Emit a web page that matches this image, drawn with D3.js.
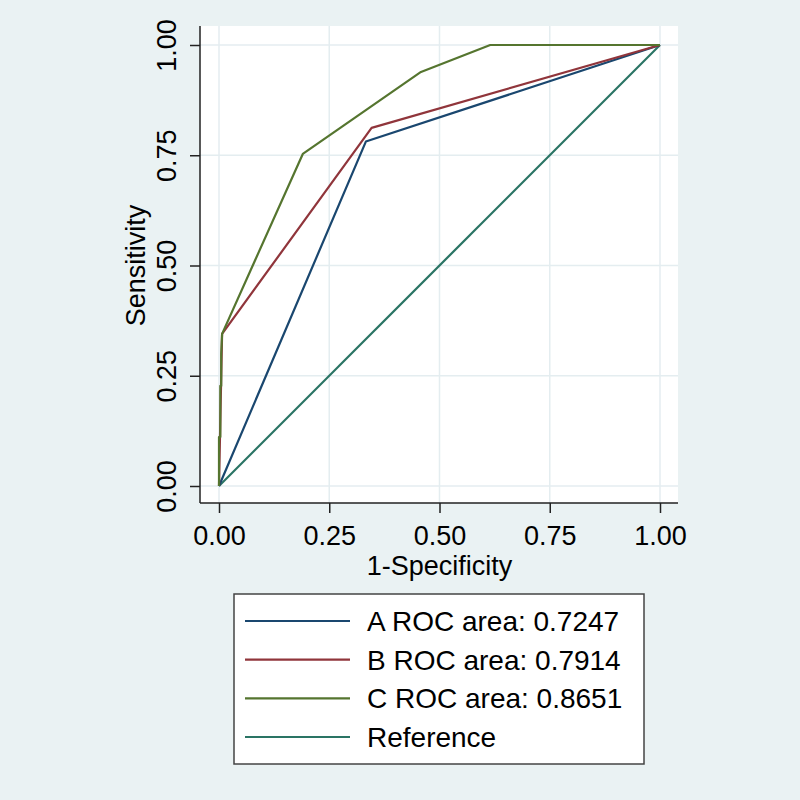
<!DOCTYPE html>
<html>
<head>
<meta charset="utf-8">
<script src="https://cdn.jsdelivr.net/npm/d3@7/dist/d3.min.js"></script>
<style>
  html, body { margin: 0; padding: 0; background: #EAF2F3; }
  svg { display: block; }
  text { font-family: Arial, "Liberation Sans", sans-serif; fill: #000; }
</style>
</head>
<body>
<svg id="chart" width="800" height="800"></svg>
<script>
// ---- Data ----
const seriesNames = ["A ROC area: 0.7247", "B ROC area: 0.7914", "C ROC area: 0.8651", "Reference"];
const seriesColors = ["#1a476f", "#90353b", "#55752f", "#2a7464"];
const aFpr = [0, 0.333, 1];
const aTpr = [0, 0.781, 1];
const bFpr = [0, 0.007, 0.346, 1];
const bTpr = [0, 0.345, 0.812, 1];
const cFpr = [0, 0, 0.003, 0.003, 0.005, 0.005, 0.007, 0.19, 0.458, 0.615, 1];
const cTpr = [0, 0.111, 0.111, 0.227, 0.227, 0.3, 0.345, 0.753, 0.939, 1, 1];
const refFpr = [0, 1];
const refTpr = [0, 1];
const tickValues = [0, 0.25, 0.5, 0.75, 1];
const tickLabels = ["0.00", "0.25", "0.50", "0.75", "1.00"];
const xTitle = "1-Specificity";
const yTitle = "Sensitivity";

const series = [
  {fpr: aFpr, tpr: aTpr},
  {fpr: bFpr, tpr: bTpr},
  {fpr: cFpr, tpr: cTpr},
  {fpr: refFpr, tpr: refTpr}
];

// ---- Layout ----
const svg = d3.select("#chart");
const W = 800, H = 800;
svg.append("rect").attr("width", W).attr("height", H).attr("fill", "#EAF2F3");

const region = {left: 200, right: 678, top: 26, bottom: 503};
const x = d3.scaleLinear().domain([0, 1]).range([219, 660]);
const y = d3.scaleLinear().domain([0, 1]).range([486, 45]);
const fontTick = 27, fontLegend = 28;

// plot region
svg.append("rect")
  .attr("x", region.left).attr("y", region.top)
  .attr("width", region.right - region.left)
  .attr("height", region.bottom - region.top)
  .attr("fill", "#ffffff");

// gridlines
const grid = svg.append("g");
grid.selectAll("line.gx").data(tickValues).enter().append("line")
  .attr("x1", d => x(d)).attr("x2", d => x(d))
  .attr("y1", region.top).attr("y2", region.bottom)
  .attr("stroke", "#E4EDF0").attr("stroke-width", 1.5);
grid.selectAll("line.gy").data(tickValues).enter().append("line")
  .attr("y1", d => y(d)).attr("y2", d => y(d))
  .attr("x1", region.left).attr("x2", region.right)
  .attr("stroke", "#E4EDF0").attr("stroke-width", 1.5);

// axes
const fmt = (d) => tickLabels[tickValues.indexOf(d)];
const xAxis = d3.axisBottom(x).tickValues(tickValues).tickFormat(fmt).tickSize(10).tickPadding(13).tickSizeOuter(0);
const yAxis = d3.axisLeft(y).tickValues(tickValues).tickFormat(fmt).tickSize(10).tickPadding(10).tickSizeOuter(0);

const gx = svg.append("g").attr("transform", `translate(0,${region.bottom})`).call(xAxis);
gx.select(".domain").remove();
gx.append("line").attr("x1", region.left).attr("x2", region.right)
  .attr("stroke", "#222").attr("stroke-width", 1.5);
gx.selectAll(".tick line").attr("stroke", "#222").attr("stroke-width", 1.5);
gx.selectAll(".tick text").attr("font-size", fontTick).attr("fill", "#000")
  .attr("font-family", "Arial, 'Liberation Sans', sans-serif");

const gy = svg.append("g").attr("transform", `translate(${region.left},0)`).call(yAxis);
gy.select(".domain").remove();
gy.append("line").attr("y1", region.top).attr("y2", region.bottom)
  .attr("stroke", "#222").attr("stroke-width", 1.5);
gy.selectAll(".tick line").attr("stroke", "#222").attr("stroke-width", 1.5);
gy.selectAll(".tick text")
  .attr("font-size", fontTick).attr("fill", "#000")
  .attr("font-family", "Arial, 'Liberation Sans', sans-serif")
  .attr("x", null)
  .attr("text-anchor", "middle")
  .attr("transform", "translate(-24,0) rotate(-90)")
  .attr("dy", "0em");

// titles
svg.append("text").attr("x", x(0.5)).attr("y", 575)
  .attr("text-anchor", "middle").attr("font-size", fontTick).text(xTitle);
svg.append("text").attr("transform", `translate(145,${y(0.5)}) rotate(-90)`)
  .attr("text-anchor", "middle").attr("font-size", fontTick).text(yTitle);

// lines
const line = d3.line().x(d => x(d[0])).y(d => y(d[1]));
const order = [3, 0, 1, 2];
order.forEach(i => {
  const s = series[i];
  const pts = s.fpr.map((f, k) => [f, s.tpr[k]]);
  svg.append("path").datum(pts)
    .attr("d", line).attr("fill", "none")
    .attr("stroke", seriesColors[i]).attr("stroke-width", 2.2)
    .attr("stroke-linejoin", "round");
});

// legend
const lg = svg.append("g");
lg.append("rect").attr("x", 234).attr("y", 594).attr("width", 410).attr("height", 170)
  .attr("fill", "#fff").attr("stroke", "#444").attr("stroke-width", 1.5);
const ly = d3.scalePoint().domain(d3.range(seriesNames.length)).range([621, 737]);
seriesNames.forEach((name, i) => {
  lg.append("line").attr("x1", 245).attr("x2", 350)
    .attr("y1", ly(i)).attr("y2", ly(i))
    .attr("stroke", seriesColors[i]).attr("stroke-width", 2.2);
  lg.append("text").attr("x", 367).attr("y", ly(i)).attr("dy", "0.36em")
    .attr("font-size", fontLegend).text(name);
});
</script>
</body>
</html>
